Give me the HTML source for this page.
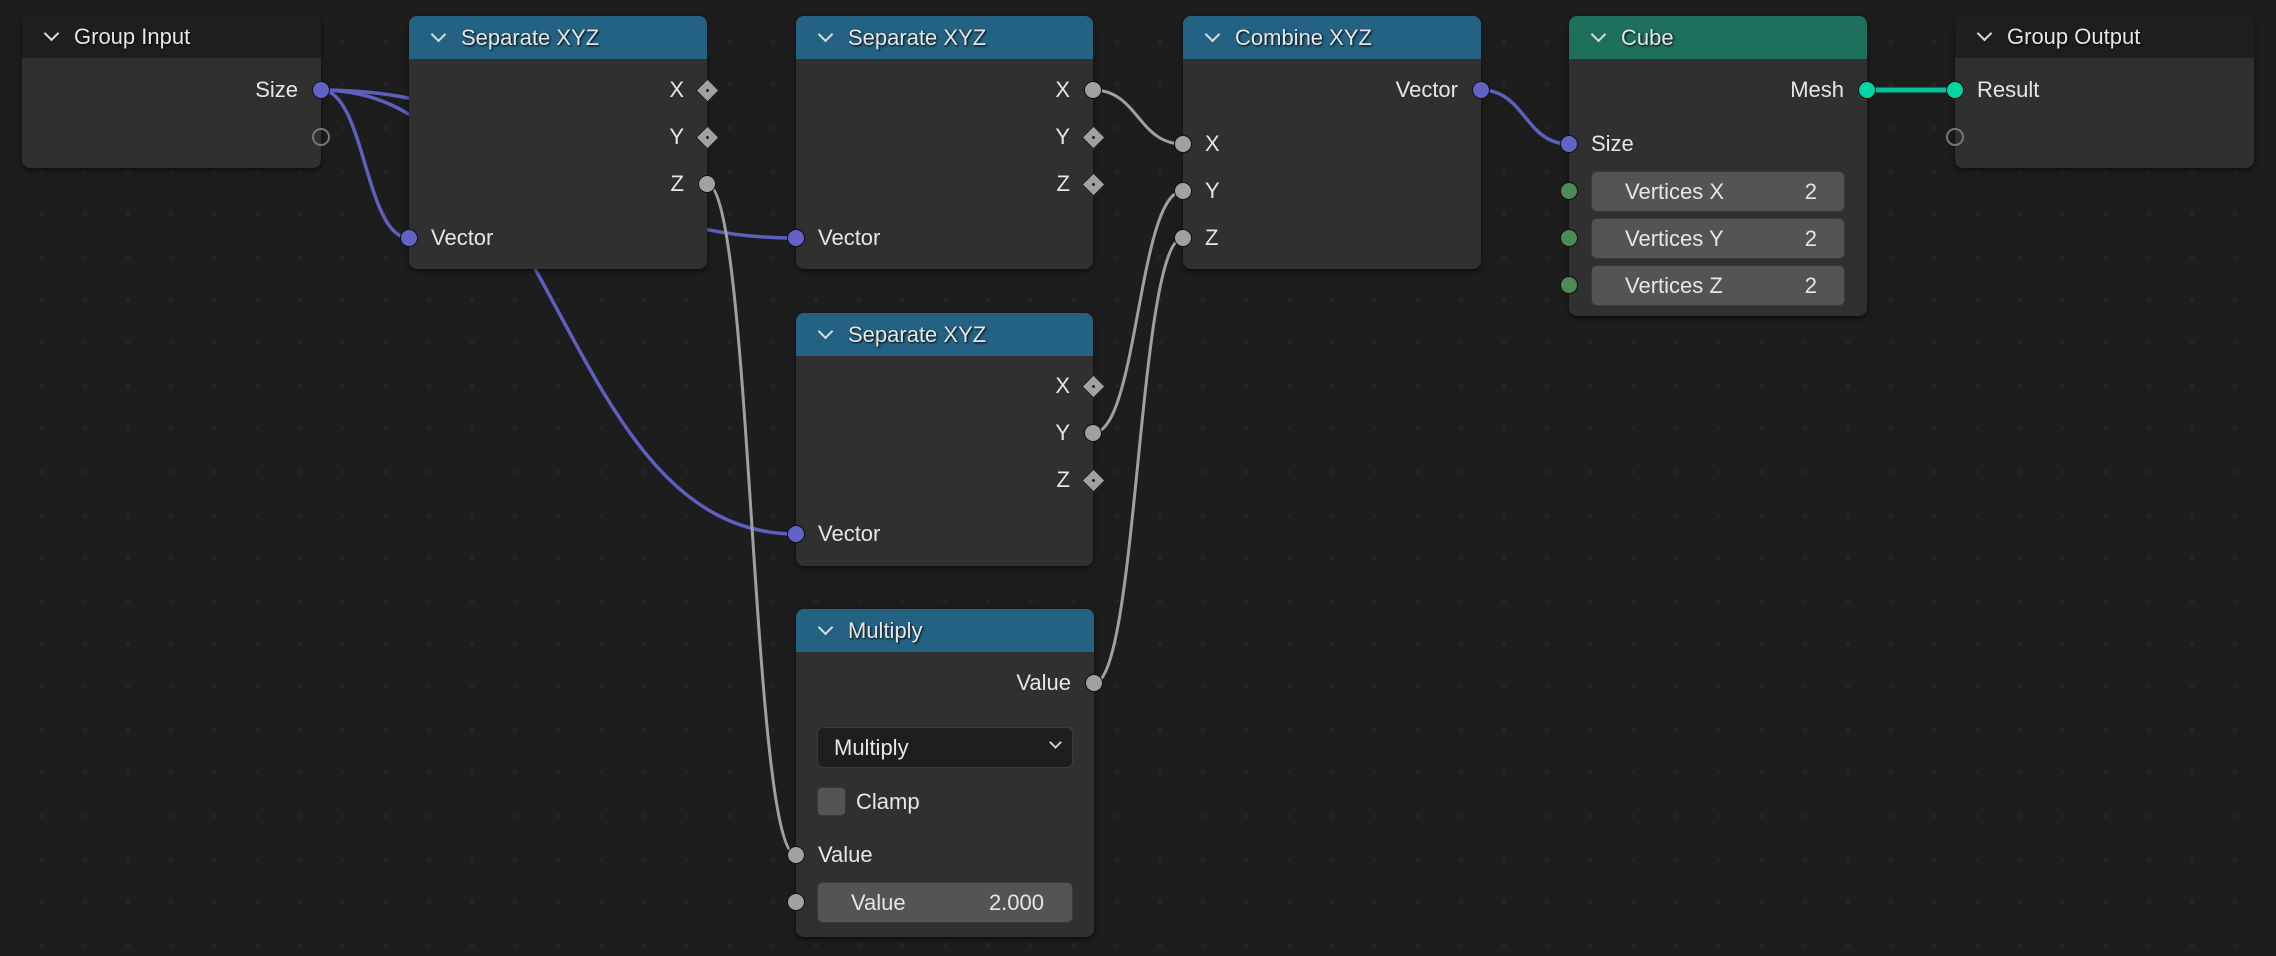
<!DOCTYPE html>
<html><head><meta charset="utf-8"><style>
*{margin:0;padding:0;box-sizing:border-box}
body{width:2276px;height:956px;overflow:hidden;position:relative;background-color:#1d1d1d;font-family:"Liberation Sans","DejaVu Sans",sans-serif;color:#e6e6e6}
#grid{position:absolute;left:0;top:0;width:2276px;height:956px;
background-image:linear-gradient(#242424,#242424);background-size:0 0}
.node{position:absolute;background:#303030;border-radius:8px;box-shadow:0 2px 6px rgba(0,0,0,.6);overflow:visible}
.hdr{position:absolute;left:0;top:0;right:0;height:43px;border-radius:8px 8px 0 0;font-size:22px;line-height:43px;padding-left:52px;text-shadow:1px 1px 2px #000}
.hdr:before{content:"";position:absolute;left:24px;top:13px;width:9px;height:9px;border-right:2px solid #ddd;border-bottom:2px solid #ddd;transform:rotate(45deg)}
.dark{background:#1e1e1e}.blue{background:#246283}.green{background:#1e6f5b}
.t{position:absolute;font-size:22px;line-height:26px;white-space:nowrap}
.r{text-align:right}
.s{position:absolute;width:18px;height:18px;border-radius:50%;border:1.5px solid #111;margin:-9px 0 0 -9px}
.p{background:#6363c7}.g{background:#a1a1a1}.gr{background:#4d8a55}.tl{background:#00d6a3}
.e{background:transparent;border:2px solid #777}
.d{position:absolute;width:17px;height:17px;background:#a1a1a1;transform:rotate(45deg);margin:-8.5px 0 0 -8.5px;border:1px solid #111}
.d:after{content:"";position:absolute;left:6px;top:6px;width:3px;height:3px;background:#222;border-radius:50%}
.f{position:absolute;background:#545454;border-radius:6px;border:1px solid #3a3a3a;font-size:22px}
</style></head><body>
<svg width="2276" height="956" style="position:absolute;left:0;top:0">
<defs><pattern id="gp" x="40" y="40" width="43" height="43" patternUnits="userSpaceOnUse"><rect x="0" y="0" width="4" height="4" fill="#242424"/></pattern></defs>
<rect width="2276" height="956" fill="url(#gp)"/>
</svg>
<svg width="2276" height="956" style="position:absolute;left:0;top:0" fill="none">
<g stroke="#5f5fbf" stroke-width="3.5">
<path d="M321,90 C365,90 365,238 409,238"/>
<path d="M321,90 C558,90 559,238 796,238"/>
<path d="M321,90 C558,90 559,534 796,534"/>
<path d="M1481,90 C1525,90 1525,144 1569,144"/>
</g>
<g stroke="#a0a0a0" stroke-width="3">
<path d="M707,184 C752,184 751,855 796,855"/>
<path d="M1093,90 C1138,90 1138,144 1183,144"/>
<path d="M1093,433 C1138,433 1138,191 1183,191"/>
<path d="M1094,683 C1138,683 1138,238 1183,238"/>
</g>
<path d="M1867,90 L1955,90" stroke="#00c497" stroke-width="5"/>
</svg>

<div class="node" style="left:22px;top:15px;width:299px;height:153px">
<div class="hdr dark">Group Input</div>
<div class="t r" style="right:23px;top:62px">Size</div>
<div class="s p" style="left:299px;top:75px"></div>
<div class="s e" style="left:299px;top:122px"></div>
</div>

<div class="node" style="left:409px;top:16px;width:298px;height:253px">
<div class="hdr blue">Separate XYZ</div>
<div class="t r" style="right:23px;top:61px">X</div>
<div class="t r" style="right:23px;top:108px">Y</div>
<div class="t r" style="right:23px;top:155px">Z</div>
<div class="d" style="left:298px;top:74px"></div>
<div class="d" style="left:298px;top:121px"></div>
<div class="s g" style="left:298px;top:168px"></div>
<div class="s p" style="left:0;top:222px"></div>
<div class="t" style="left:22px;top:209px">Vector</div>
</div>

<div class="node" style="left:796px;top:16px;width:297px;height:253px">
<div class="hdr blue">Separate XYZ</div>
<div class="t r" style="right:23px;top:61px">X</div>
<div class="t r" style="right:23px;top:108px">Y</div>
<div class="t r" style="right:23px;top:155px">Z</div>
<div class="s g" style="left:297px;top:74px"></div>
<div class="d" style="left:297px;top:121px"></div>
<div class="d" style="left:297px;top:168px"></div>
<div class="s p" style="left:0;top:222px"></div>
<div class="t" style="left:22px;top:209px">Vector</div>
</div>

<div class="node" style="left:796px;top:313px;width:297px;height:253px">
<div class="hdr blue">Separate XYZ</div>
<div class="t r" style="right:23px;top:60px">X</div>
<div class="t r" style="right:23px;top:107px">Y</div>
<div class="t r" style="right:23px;top:154px">Z</div>
<div class="d" style="left:297px;top:73px"></div>
<div class="s g" style="left:297px;top:120px"></div>
<div class="d" style="left:297px;top:167px"></div>
<div class="s p" style="left:0;top:221px"></div>
<div class="t" style="left:22px;top:208px">Vector</div>
</div>

<div class="node" style="left:796px;top:609px;width:298px;height:328px">
<div class="hdr blue">Multiply</div>
<div class="t r" style="right:23px;top:61px">Value</div>
<div class="s g" style="left:298px;top:74px"></div>
<div class="f" style="left:21px;top:118px;width:256px;height:41px;background:#1e1e1e;border-color:#3c3c3c">
<span style="position:absolute;left:16px;top:7px">Multiply</span>
<span style="position:absolute;right:12px;top:10px;width:9px;height:9px;border-right:2px solid #ccc;border-bottom:2px solid #ccc;transform:rotate(45deg)"></span></div>
<div style="position:absolute;left:21px;top:178px;width:29px;height:29px;background:#545454;border-radius:5px;border:1px solid #3a3a3a"></div>
<div class="t" style="left:60px;top:180px">Clamp</div>
<div class="s g" style="left:0;top:246px"></div>
<div class="t" style="left:22px;top:233px">Value</div>
<div class="s g" style="left:0;top:293px"></div>
<div class="f" style="left:21px;top:273px;width:256px;height:41px">
<span style="position:absolute;left:33px;top:7px">Value</span>
<span style="position:absolute;right:28px;top:7px">2.000</span></div>
</div>

<div class="node" style="left:1183px;top:16px;width:298px;height:253px">
<div class="hdr blue">Combine XYZ</div>
<div class="t r" style="right:23px;top:61px">Vector</div>
<div class="s p" style="left:298px;top:74px"></div>
<div class="s g" style="left:0;top:128px"></div>
<div class="s g" style="left:0;top:175px"></div>
<div class="s g" style="left:0;top:222px"></div>
<div class="t" style="left:22px;top:115px">X</div>
<div class="t" style="left:22px;top:162px">Y</div>
<div class="t" style="left:22px;top:209px">Z</div>
</div>

<div class="node" style="left:1569px;top:16px;width:298px;height:300px">
<div class="hdr green">Cube</div>
<div class="t r" style="right:23px;top:61px">Mesh</div>
<div class="s tl" style="left:298px;top:74px"></div>
<div class="s p" style="left:0;top:128px"></div>
<div class="t" style="left:22px;top:115px">Size</div>
<div class="s gr" style="left:0;top:175px"></div>
<div class="s gr" style="left:0;top:222px"></div>
<div class="s gr" style="left:0;top:269px"></div>
<div class="f" style="left:22px;top:155px;width:254px;height:41px"><span style="position:absolute;left:33px;top:7px">Vertices X</span><span style="position:absolute;right:27px;top:7px">2</span></div>
<div class="f" style="left:22px;top:202px;width:254px;height:41px"><span style="position:absolute;left:33px;top:7px">Vertices Y</span><span style="position:absolute;right:27px;top:7px">2</span></div>
<div class="f" style="left:22px;top:249px;width:254px;height:41px"><span style="position:absolute;left:33px;top:7px">Vertices Z</span><span style="position:absolute;right:27px;top:7px">2</span></div>
</div>

<div class="node" style="left:1955px;top:15px;width:299px;height:153px">
<div class="hdr dark">Group Output</div>
<div class="s tl" style="left:0;top:75px"></div>
<div class="t" style="left:22px;top:62px">Result</div>
<div class="s e" style="left:0;top:122px"></div>
</div>
</body></html>
